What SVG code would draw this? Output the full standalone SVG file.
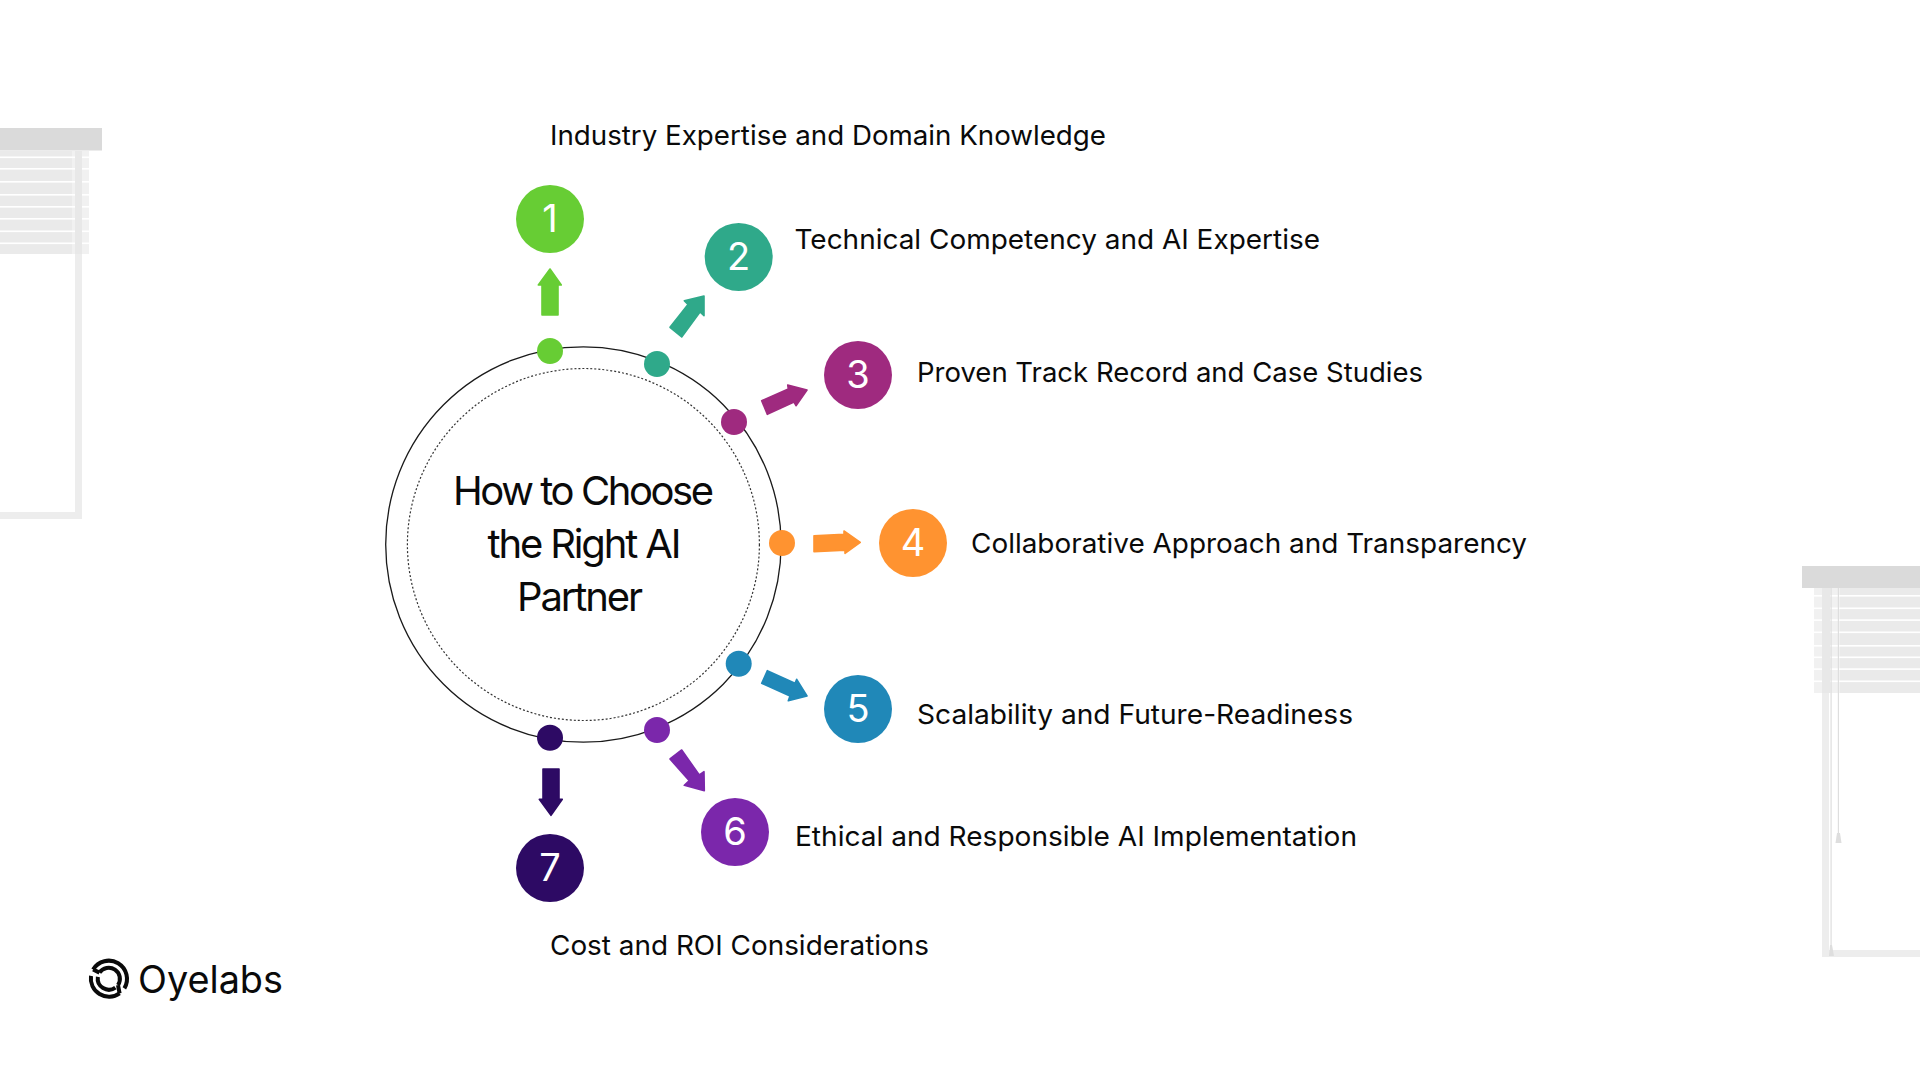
<svg xmlns="http://www.w3.org/2000/svg" width="1920" height="1080" viewBox="0 0 1920 1080">
<style>
text{font-family:"Inter","Noto Sans","Liberation Sans",sans-serif;fill:#0a0a0a}
.lb{font-size:27.5px;font-weight:400}
.n{font-size:38px;fill:#fff;text-anchor:middle}
.t{font-size:40px;font-weight:400}
.hd{fill:#dadada}.sl{fill:#eaeaea}.fr{fill:#ededed}.gap{fill:#fff}.ct{fill:#f1f1f1}.st{fill:#e8e8e8}.cd{fill:#dedede}
.c1{fill:#67cd34}.c2{fill:#2fa98a}.c3{fill:#9f2a7f}.c4{fill:#ff9330}.c5{fill:#2088b8}.c6{fill:#7b27ab}.c7{fill:#2d0a64}
#connectors path{stroke-width:1.600;stroke-linejoin:round}
#connectors .c1{stroke:#67cd34}#connectors .c2{stroke:#2fa98a}#connectors .c3{stroke:#9f2a7f}#connectors .c4{stroke:#ff9330}#connectors .c5{stroke:#2088b8}#connectors .c6{stroke:#7b27ab}#connectors .c7{stroke:#2d0a64}
</style>
<rect width="1920" height="1080" fill="#fff"/>
<g id="blind-left">
<rect class="fr" x="75" y="254" width="7" height="265"/>
<rect class="fr" x="0" y="512" width="82" height="7"/>
<rect class="sl" x="0" y="151" width="89" height="103"/>
<rect class="ct" x="72" y="151" width="17" height="103"/>
<rect class="gap" x="0" y="156.500" width="89" height="1.600"/><rect class="gap" x="0" y="168" width="89" height="1.600"/><rect class="gap" x="0" y="181" width="89" height="1.600"/><rect class="gap" x="0" y="194" width="89" height="1.600"/><rect class="gap" x="0" y="206" width="89" height="1.600"/><rect class="gap" x="0" y="218" width="89" height="1.600"/><rect class="gap" x="0" y="230.500" width="89" height="1.600"/><rect class="gap" x="0" y="242.500" width="89" height="1.600"/>
<rect class="st" x="75" y="151" width="7" height="103"/>
<rect class="hd" x="0" y="128" width="102" height="22.500"/>
</g>
<g id="blind-right">
<rect class="fr" x="1822" y="693" width="7" height="264"/>
<rect class="fr" x="1822" y="950" width="98" height="7"/>
<rect class="sl" x="1814" y="588" width="106" height="105"/>
<rect class="ct" x="1814" y="588" width="26" height="105"/>
<rect class="gap" x="1814" y="595" width="106" height="1.600"/><rect class="gap" x="1814" y="607.500" width="106" height="1.600"/><rect class="gap" x="1814" y="619.300" width="106" height="1.600"/><rect class="gap" x="1814" y="631.500" width="106" height="1.600"/><rect class="gap" x="1814" y="645" width="106" height="1.600"/><rect class="gap" x="1814" y="656.500" width="106" height="1.600"/><rect class="gap" x="1814" y="668.300" width="106" height="1.600"/><rect class="gap" x="1814" y="680.500" width="106" height="1.600"/>
<rect class="st" x="1822" y="588" width="8" height="105"/>
<rect class="hd" x="1802" y="566" width="118" height="22"/>
<rect class="cd" x="1830.500" y="588" width="1.200" height="358"/>
<path class="cd" d="M1829 956L1830 945H1832L1834 956Z"/>
<rect class="cd" x="1837.800" y="588" width="1.200" height="246"/>
<path class="cd" d="M1835.500 843L1837 833H1840L1841.500 843Z"/>
</g>
<g id="hub">
<circle cx="583.400" cy="544.500" r="197.700" fill="none" stroke="#1a1a1a" stroke-width="1.300"/>
<circle cx="583.400" cy="544.500" r="176" fill="none" stroke="#333" stroke-width="1.200" stroke-dasharray="2 2"/>
<text class="t" x="453" y="505" textLength="261">How to Choose</text>
<text class="t" x="487.500" y="558" textLength="194">the Right AI</text>
<text class="t" x="517" y="611" textLength="126">Partner</text>
</g>
<g id="connectors">
<path class="c1" d="M542 315V285H538.300L550 269L561.300 285H558V315Z"/>
<path class="c2" d="M670 327.300L688 304.500L684.300 300.700L704 296L704 315.700L700 312L681.700 337Z"/>
<path class="c3" d="M761.700 400.700L788.300 389L787.700 385L807 390L796 405.700L794 402L767.300 414.300Z"/>
<path class="c4" d="M814 535.700L844 534.300V531L860.300 542.300L845 553.300V550.300L814 551.700Z"/>
<path class="c5" d="M767.300 670.700L795 683.300L796.700 679.300L807 696L788.300 700.700L790 696L761.700 683.300Z"/>
<path class="c6" d="M681.700 750L699.300 775L704 771.700L704.300 790.700L684.300 785.300L689.300 780.700L670 759Z"/>
<path class="c7" d="M543 769H559V799.300H562.300L551 815.300L539.300 799.300H543Z"/>
</g>
<g id="node-1"><circle class="c1" cx="550" cy="351" r="13"/><circle class="c1" cx="550" cy="219" r="34"/><text class="n" x="550" y="232">1</text><text class="lb" x="550" y="145" textLength="556" lengthAdjust="spacingAndGlyphs">Industry Expertise and Domain Knowledge</text></g>
<g id="node-2"><circle class="c2" cx="657" cy="364" r="13"/><circle class="c2" cx="738.700" cy="257" r="34"/><text class="n" x="738.700" y="270">2</text><text class="lb" x="794.500" y="249" textLength="525.500" lengthAdjust="spacingAndGlyphs">Technical Competency and AI Expertise</text></g>
<g id="node-3"><circle class="c3" cx="734" cy="422" r="13"/><circle class="c3" cx="858" cy="375" r="34"/><text class="n" x="858" y="388">3</text><text class="lb" x="917" y="382" textLength="506" lengthAdjust="spacingAndGlyphs">Proven Track Record and Case Studies</text></g>
<g id="node-4"><circle class="c4" cx="782" cy="543" r="13"/><circle class="c4" cx="913" cy="543" r="34"/><text class="n" x="913" y="556">4</text><text class="lb" x="971" y="553" textLength="556" lengthAdjust="spacingAndGlyphs">Collaborative Approach and Transparency</text></g>
<g id="node-5"><circle class="c5" cx="738.700" cy="663.700" r="13"/><circle class="c5" cx="858" cy="709" r="34"/><text class="n" x="858" y="722">5</text><text class="lb" x="917" y="724" textLength="436" lengthAdjust="spacingAndGlyphs">Scalability and Future-Readiness</text></g>
<g id="node-6"><circle class="c6" cx="657" cy="730" r="13"/><circle class="c6" cx="735" cy="832" r="34"/><text class="n" x="735" y="845">6</text><text class="lb" x="795" y="846" textLength="562" lengthAdjust="spacingAndGlyphs">Ethical and Responsible AI Implementation</text></g>
<g id="node-7"><circle class="c7" cx="550" cy="737.700" r="13"/><circle class="c7" cx="550" cy="868" r="34"/><text class="n" x="550" y="881">7</text><text class="lb" x="550" y="955" textLength="379" lengthAdjust="spacingAndGlyphs">Cost and ROI Considerations</text></g>
<g id="logo">
<g fill="none" stroke="#0a0a0a" stroke-width="3.800" transform="translate(109 978.500) scale(1.060)">
<path d="M-15-8.500A17.200 17.200 0 0 1 14.500 9.300"/><path d="M10 14A17.200 17.200 0 0 1-17-2.500"/>
<path d="M-9-5.500A10.500 10.500 0 0 1 8.500 6.200"/><path d="M6 8.600A10.500 10.500 0 0 1-10.500-1.500"/>
<path d="M-15-8.500L-9-5.500M10 14L8.500 6.200"/>
</g>
<text x="138" y="993" font-size="38" textLength="145" lengthAdjust="spacingAndGlyphs">Oyelabs</text>
</g>
</svg>
